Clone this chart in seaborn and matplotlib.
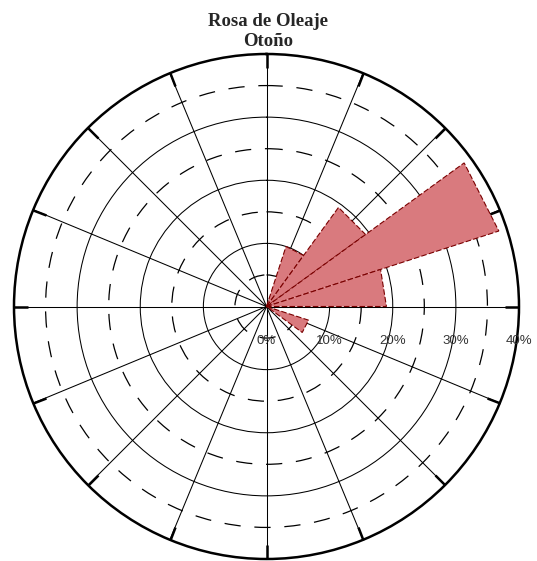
import matplotlib
matplotlib.use("Agg")
import matplotlib.pyplot as plt
import seaborn as sns
import numpy as np

# Wave rose data: direction sectors (deg clockwise from north) and frequency (%)
sector_centers = [27, 45, 63, 81, 117]
sector_width = 18
frequencies = [10.0, 19.4, 38.7, 19.0, 7.0]

ring_values = [5, 10, 15, 20, 25, 30, 35]
ring_labels = ["0%", "10%", "20%", "30%", "40%"]
ring_label_values = [0, 10, 20, 30, 40]
spoke_angles = np.arange(0, 360, 22.5)

title_lines = ["Rosa de Oleaje", "Otoño"]

sns.set_theme(style="white")
plt.rcParams['font.family'] = ['Liberation Sans', 'DejaVu Sans']

fig = plt.figure(figsize=(5.37, 5.61), dpi=100)
ax = fig.add_axes([14 / 537, 2 / 561, 505 / 537, 505 / 561], projection="polar")
ax.set_theta_zero_location("N")
ax.set_theta_direction(-1)
ax.set_ylim(0, 40)
ax.set_facecolor("white")

# grid: spokes every 22.5 deg, rings every 5 % (odd ones dashed)
ax.set_thetagrids(spoke_angles, labels=[""] * len(spoke_angles))
ax.set_rgrids(ring_values, labels=[""] * len(ring_values))
ax.grid(True, color="black", linewidth=0.75)
for val, gl in zip(ring_values, ax.yaxis.get_gridlines()):
    if val % 10 != 0:
        gl.set_linestyle((0, (13, 11)))
        gl.set_linewidth(0.9)
# thick marks where the spokes meet the outer ring (outer ticks only)
ax.tick_params(axis="x", which="major", bottom=False, top=True, direction="in",
               length=10, width=1.8, color="black", pad=0)
ax.tick_params(axis="y", length=0)
ax.spines["polar"].set_linewidth(1.8)
ax.spines["polar"].set_color("black")
ax.set_axisbelow(True)

# sectors as straight-edged wedges
for c, f in zip(sector_centers, frequencies):
    t = np.deg2rad([c - sector_width / 2, c - sector_width / 2, c + sector_width / 2])
    ax.fill(t, [0, f, f], facecolor="#d97a7e", edgecolor="#7a0000",
            linewidth=0.8, linestyle=(0, (5, 2)), zorder=3)

# percentage labels along the east axis
for v, lab in zip(ring_label_values, ring_labels):
    ax.annotate(lab, xy=(np.deg2rad(90), v), xytext=(0, -34),
                textcoords="offset pixels", ha="center", va="center",
                fontsize=9.5, color="#333333", annotation_clip=False)

for i, line in enumerate(title_lines):
    fig.text(0.5, 1 - (26 + 20 * i) / 561, line, ha="center", va="baseline",
             fontsize=13.5, fontweight="bold", family=["Liberation Serif", "DejaVu Serif"])

fig.savefig("out.png", dpi=100, facecolor="white")
